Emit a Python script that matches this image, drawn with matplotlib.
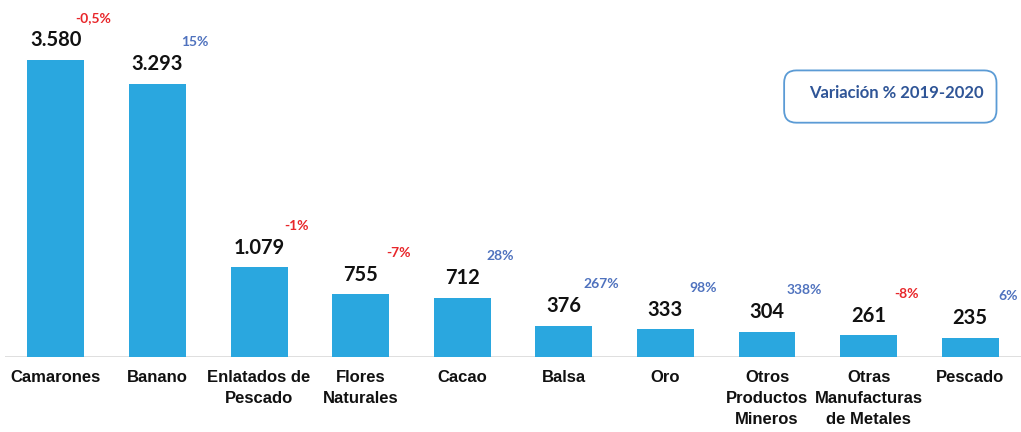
import matplotlib
matplotlib.use("Agg")
import matplotlib.pyplot as plt
from matplotlib.patches import FancyBboxPatch

# Exportaciones no petroleras 2020 (millones USD) y variación 2019-2020
categorias = ["Camarones", "Banano", "Enlatados de\nPescado", "Flores\nNaturales",
              "Cacao", "Balsa", "Oro", "Otros\nProductos\nMineros",
              "Otras\nManufacturas\nde Metales", "Pescado"]
valores = [3580, 3293, 1079, 755, 712, 376, 333, 304, 261, 235]
etiquetas_valor = ["3.580", "3.293", "1.079", "755", "712", "376", "333", "304", "261", "235"]
variacion = [-0.5, 15, -1, -7, 28, 267, 98, 338, -8, 6]
etiquetas_var = ["-0,5%", "15%", "-1%", "-7%", "28%", "267%", "98%", "338%", "-8%", "6%"]

AZUL_BARRA = "#2aa7df"
AZUL_VAR = "#4f72be"
ROJO_VAR = "#e8262a"

fig = plt.figure(figsize=(10.21, 4.32), dpi=100)
ax = fig.add_axes([0.005, 0.1736, 0.995, 0.8264])

x = list(range(len(categorias)))
ax.bar(x, valores, width=0.56, color=AZUL_BARRA, zorder=2)
ax.axhline(0, color="#d9d9d9", linewidth=1.2, zorder=1)

ax.set_xlim(-0.5, len(categorias) - 0.5)
ax.set_ylim(0, 4303)

for xi, v, txt, var, vtxt in zip(x, valores, etiquetas_valor, variacion, etiquetas_var):
    ax.annotate(txt, (xi, v), xytext=(0, 7), textcoords="offset points",
                ha="center", va="bottom", fontsize=14.5, fontweight="bold",
                family="Lato", color="#111111")
    ax.annotate(vtxt, (xi, v), xytext=(27, 30), textcoords="offset points",
                ha="center", va="center", fontsize=10, fontweight="bold",
                family="Lato", color=ROJO_VAR if var < 0 else AZUL_VAR)

ax.set_xticks(x)
ax.set_xticklabels(categorias, fontsize=12, fontweight="bold",
                   family="Liberation Sans", linespacing=1.5, color="#111111")
ax.tick_params(axis="x", length=0, pad=9)
ax.set_yticks([])
for s in ax.spines.values():
    s.set_visible(False)

# recuadro de leyenda
caja = FancyBboxPatch((0.768, 0.716), 0.208, 0.121,
                      boxstyle="round,pad=0,rounding_size=0.012",
                      transform=fig.transFigure, facecolor="white",
                      edgecolor="#5b9bd5", linewidth=1.3, mutation_aspect=2.4)
fig.patches.append(caja)
fig.text(0.878, 0.785, "Variación % 2019-2020", ha="center", va="center",
         fontsize=12, fontweight="bold", family="Lato", color="#2f5597")

fig.savefig("out.png", dpi=100)
